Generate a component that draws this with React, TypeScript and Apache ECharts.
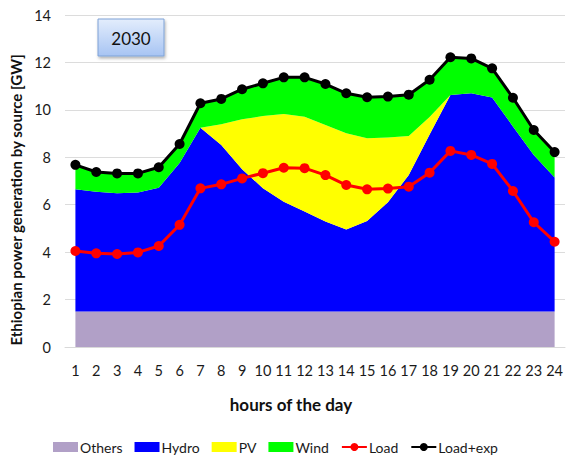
import React, { useEffect, useRef } from "react";
import * as echarts from "echarts";

const hours = ["1","2","3","4","5","6","7","8","9","10","11","12","13","14","15","16","17","18","19","20","21","22","23","24"];
const others = [1.5,1.5,1.5,1.5,1.5,1.5,1.5,1.5,1.5,1.5,1.5,1.5,1.5,1.5,1.5,1.5,1.5,1.5,1.5,1.5,1.5,1.5,1.5,1.5];
const hydro = [5.15,5.05,4.98,5.01,5.22,6.26,7.75,7.02,6.0,5.19,4.63,4.21,3.79,3.46,3.81,4.6,5.75,7.46,9.13,9.2,9.02,7.8,6.6,5.65];
const pv = [0,0,0,0,0,0,0,0.87,2.1,3.05,3.7,4.0,4.07,4.05,3.49,2.73,1.65,0.74,0,0,0,0,0,0];
const wind = [1.03,0.83,0.84,0.81,0.86,0.8,1.03,1.07,1.27,1.38,1.54,1.66,1.73,1.69,1.73,1.73,1.74,1.57,1.59,1.47,1.23,1.21,1.05,1.07];
const load = [4.05,3.95,3.92,3.99,4.26,5.15,6.69,6.86,7.11,7.33,7.56,7.54,7.25,6.83,6.65,6.68,6.76,7.35,8.27,8.1,7.72,6.58,5.26,4.44];
const loadExp = [7.68,7.38,7.32,7.32,7.58,8.56,10.28,10.46,10.87,11.12,11.37,11.37,11.09,10.7,10.53,10.56,10.64,11.27,12.22,12.17,11.75,10.51,9.15,8.22];
const yTicks = [0, 2, 4, 6, 8, 10, 12, 14];

const FONT = "Lato, 'Liberation Sans', sans-serif";

export default function App() {
  const ref = useRef<HTMLDivElement>(null);
  useEffect(() => {
    if (!ref.current) return;
    const chart = echarts.init(ref.current, undefined, { renderer: "svg" });
    const area = (name: string, data: number[], color: string) => ({
      name,
      type: "line",
      stack: "gen",
      data,
      showSymbol: false,
      symbol: "none",
      lineStyle: { width: 0 },
      itemStyle: { color },
      areaStyle: { color, opacity: 1 },
      z: 1,
    });
    const lineS = (name: string, data: number[], color: string) => ({
      name,
      type: "line",
      data,
      symbol: "circle",
      symbolSize: 10,
      lineStyle: { width: 3, color },
      itemStyle: { color },
      z: 5,
    });
    chart.setOption({
      animation: false,
      grid: { left: 65, right: 0, top: 15, bottom: 108, containLabel: false },
      xAxis: {
        type: "category",
        data: hours,
        boundaryGap: true,
        axisTick: { show: false },
        axisLine: { lineStyle: { color: "#D9D9D9", width: 1 } },
        axisLabel: { color: "#1a1a1a", fontSize: 14.5, fontFamily: FONT, margin: 16, interval: 0 },
      },
      yAxis: {
        type: "value",
        min: yTicks[0],
        max: yTicks[yTicks.length - 1],
        interval: 2,
        axisLine: { show: false },
        axisTick: { show: false },
        splitLine: { lineStyle: { color: "#DCDCDC", width: 1 } },
        axisLabel: { color: "#1a1a1a", fontSize: 14.5, fontFamily: FONT, margin: 14 },
      },
      legend: {
        left: 48,
        top: 435,
        itemWidth: 25,
        itemHeight: 10,
        itemGap: 12,
        textStyle: { fontSize: 14, fontFamily: FONT, color: "#1a1a1a", padding: [0, 0, 0, -3] },
        data: [
          { name: "Others", icon: "rect" },
          { name: "Hydro", icon: "rect" },
          { name: "PV", icon: "rect" },
          { name: "Wind", icon: "rect" },
          { name: "Load" },
          { name: "Load+exp" },
        ],
      },
      graphic: [
        {
          type: "rect",
          shape: { x: 98, y: 19, width: 66, height: 37 },
          style: {
            fill: new echarts.graphic.LinearGradient(0, 0, 0, 1, [
              { offset: 0, color: "#E3EDFC" },
              { offset: 1, color: "#A7C4F3" },
            ]),
            stroke: "#7FA2D6",
            lineWidth: 1,
            shadowBlur: 3,
            shadowOffsetX: 1,
            shadowOffsetY: 2,
            shadowColor: "rgba(0,0,0,0.3)",
          },
          z: 10,
        },
        {
          type: "text",
          x: 131,
          y: 38,
          style: { text: "2030", fontSize: 17, fontFamily: FONT, fill: "#111", textAlign: "center", textVerticalAlign: "middle" },
          z: 11,
        },
        {
          type: "text",
          x: 291,
          y: 404,
          style: { text: "hours of the day", fontSize: 17, fontWeight: "bold", fontFamily: FONT, fill: "#111", textAlign: "center", textVerticalAlign: "middle" },
        },
        {
          type: "text",
          x: 16,
          y: 200,
          rotation: Math.PI / 2,
          style: { text: "Ethiopian power generation by source [GW]", fontSize: 15, fontWeight: "bold", fontFamily: FONT, fill: "#111", textAlign: "center", textVerticalAlign: "middle" },
        },
      ],
      series: [
        area("Others", others, "#B1A0C7"),
        area("Hydro", hydro, "#0000FF"),
        area("PV", pv, "#FFFF00"),
        area("Wind", wind, "#00FF00"),
        lineS("Load", load, "#FF0000"),
        lineS("Load+exp", loadExp, "#000000"),
      ],
    });
    return () => chart.dispose();
  }, []);
  return <div ref={ref} style={{ width: 566, height: 455, position: "absolute", left: 0, top: 0 }} />;
}
